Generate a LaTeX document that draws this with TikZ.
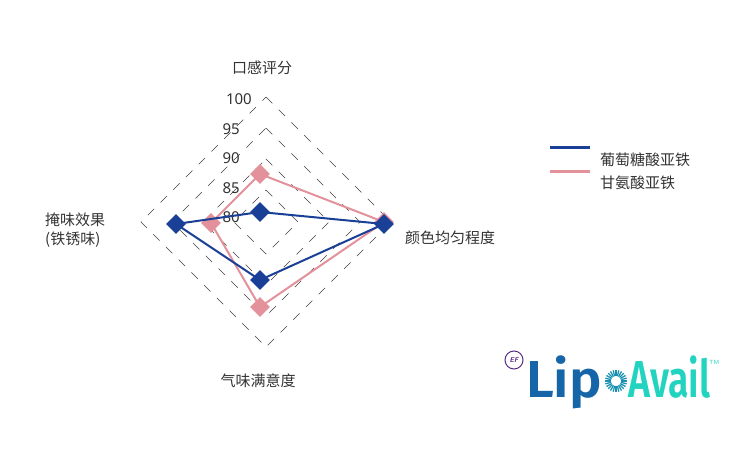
\documentclass[tikz,border=0pt]{standalone}
\usepackage{fontspec}
\setmainfont{Noto Sans}
\newfontfamily\cjk{Noto Sans CJK SC}
\newfontfamily\logofont{Fira Sans}[UprightFont=* SemiBold]
\usetikzlibrary{shapes.geometric}
\definecolor{cblue}{HTML}{1A3F96}
\definecolor{cpink}{HTML}{E3919A}
\definecolor{lipblue}{HTML}{1565A8}
\definecolor{teal}{HTML}{22D3C0}
\definecolor{efpurple}{HTML}{5B2C83}
\definecolor{txt}{HTML}{333333}
\tikzset{
  grid/.style={draw=black!75,line width=0.6pt,dash pattern=on 9pt off 9pt},
  lab/.style={font=\cjk\fontsize{15pt}{19pt}\selectfont,text=txt,inner sep=0pt},
  tick/.style={font=\fontsize{15pt}{17pt}\selectfont,text=txt,inner sep=0pt,anchor=east},
  bmark/.style={diamond,fill=cblue,minimum width=20pt,minimum height=20pt,inner sep=0pt},
  pmark/.style={diamond,fill=cpink,minimum width=20pt,minimum height=20pt,inner sep=0pt},
}
\begin{document}
\begin{tikzpicture}[x=1pt,y=-1pt]
\useasboundingbox (0,0) rectangle (750,450);
% grid
\foreach \r in {32,63,94,125}{
  \draw[grid] (266,222-\r) -- (266+\r,222) -- (266,222+\r) -- (266-\r,222) -- cycle;
}
% ticks
\node[tick] (t100) at (252,99) {100};
\node[tick] (t95) at (240,129) {95};
\node[tick] (t90) at (240,158) {90};
\node[tick] (t85) at (240,188) {85};
\node[tick] (t80) at (240,217) {80};
% pink series
\coordinate (pT) at (260,174);
\coordinate (pR) at (384,222);
\coordinate (pB) at (260,307);
\coordinate (pL) at (211,223);
\draw[cpink,line width=2pt,line join=round] (pT) -- (pR) -- (pB) -- (pL) -- cycle;
\foreach \p in {pT,pR,pB,pL}{\node[pmark] at (\p) {};}
% blue series
\coordinate (bT) at (260,212);
\coordinate (bR) at (384,224);
\coordinate (bB) at (260,280);
\coordinate (bL) at (176,224);
\draw[cblue,line width=2pt,line join=round] (bT) -- (bR) -- (bB) -- (bL) -- cycle;
\foreach \p in {bT,bR,bB,bL}{\node[bmark] at (\p) {};}
% axis labels
\node[lab] (a1) at (262,68) {口感评分};
\node[lab,anchor=west] (a2) at (405,238) {颜色均匀程度};
\node[lab] (a3) at (258,381) {气味满意度};
\node[lab,anchor=west,align=left] (a4) at (45,230) {掩味效果\\(铁锈味)};
% legend
\coordinate (l1a) at (550,147); \coordinate (l1b) at (590,147);
\coordinate (l2a) at (550,171); \coordinate (l2b) at (590,171);
\draw[cblue,line width=3pt] (l1a) -- (l1b);
\draw[cpink,line width=3pt] (l2a) -- (l2b);
\node[lab,anchor=west] (g1) at (600,160) {葡萄糖酸亚铁};
\node[lab,anchor=west] (g2) at (600,183) {甘氨酸亚铁};
% logo
\node[circle,draw=efpurple,line width=1pt,minimum size=18pt,inner sep=0pt,font=\sffamily\bfseries\itshape\fontsize{7pt}{7pt}\selectfont,text=efpurple] (ef) at (514,360) {EF};
\node[anchor=base west,inner sep=0pt,font=\logofont\fontsize{52pt}{52pt}\selectfont,text=lipblue] (lip) at (526,397) {\scalebox{1.05}[1]{Lip}};
\foreach \a in {0,15,...,345}{
  \draw[lipblue!60!teal,line width=1.3pt] (616,381) ++(\a:5pt) -- ++(\a:6pt);
}
\node[anchor=base west,inner sep=0pt,font=\logofont\fontsize{52pt}{52pt}\selectfont,text=teal] (avail) at (628,397) {\scalebox{0.72}[1]{Avail}};
\node[anchor=west,inner sep=0pt,font=\sffamily\fontsize{6pt}{6pt}\selectfont,text=teal] (tm) at (709,362) {TM};
\end{tikzpicture}
\end{document}
